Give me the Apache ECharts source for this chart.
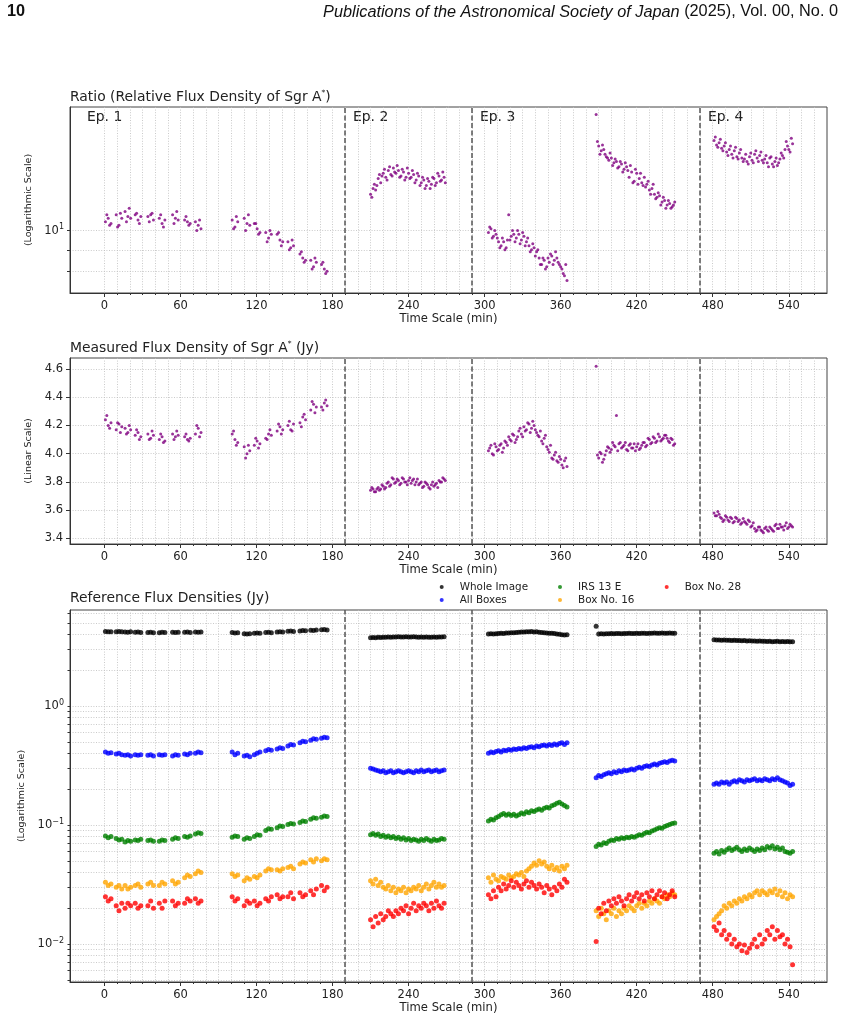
<!DOCTYPE html>
<html>
<head>
<meta charset="utf-8">
<script src="https://cdn.jsdelivr.net/npm/echarts@6/dist/echarts.min.js"></script>
<style>
  html, body { margin: 0; padding: 0; background: #fff; }
  #chart { width: 845px; height: 1017px; }
</style>
</head>
<body>
<div id="chart"></div>
<script>
// sampling times (min): epoch 1 comes in short clusters, the others are continuous runs
const ep1aCenters = [3, 11.5, 18.5, 26.5, 36.5, 45.5, 56, 65.5, 74];
const ep1bCenters = [103, 112.5, 120.5, 129.5, 138.5, 147, 156.5, 165, 173.5];
const clusterOffsets = [-2.2, 0, 2.2];
const runStarts = [210, 303, 388, 481];
const runLengths = [30, 32, 32, 32];
// second, interleaved set of frames (used for the Sgr A* panels)
const clusterOffsetsB = [-1.1, 1.1];
const runStartsB = [211, 304, 389, 482];
const runLengthsB = [30, 31, 31, 31];
const sampleStep = 2;

const timeLabels = [0, 60, 120, 180, 240, 300, 360, 420, 480, 540];
const epochBounds = [190, 290, 470];

// ratio (relative flux density of Sgr A*)
const ratio = [
  10.5,10.7,10.4, 10.9,10.3,10.7, 11.1,10.8,10.7, 10.9,10.6,10.8, 10.8,10.9,10.6, 10.7,10.4,10.6, 10.9,10.7,10.6, 10.6,10.5,10.4, 10.5,10.3,10.1,
  10.6,10.2,10.5, 10.7,10.4,10.3, 10.4,10.1,9.9, 9.9,9.6,9.8, 9.8,9.5,9.4, 9.4,9.1,9.2, 8.8,8.6,8.5, 8.5,8.2,8.4, 8.3,8.1,8.0,
  12.2,12.6,12.5,13.3,13.0,13.7,13.4,13.9,13.6,14.1, 13.7,13.9,13.5,13.8,13.4,13.7,13.4,13.6,13.2,13.5, 13.0,13.2,12.8,13.1,12.9,13.3,13.0,13.5,13.2,13.4,
  9.9,10.1,9.7,9.8,9.4,9.2,9.4,9.1, 10.9,9.7,9.8,9.6,9.8,9.5,9.7,9.4, 9.2,9.0,9.1,8.9,8.6,8.3,8.5,8.2, 8.4,8.7,8.5,8.6,8.3,8.1,7.8,7.6,
  18.9,15.9,15.5,15.6,15.0,14.7,14.9,14.5, 14.6,14.2,14.4,14.0,14.2,13.4,13.8,13.1, 13.7,13.3,13.0,13.4,12.9,12.5,12.6,12.2, 12.0,12.1,11.7,11.8,11.5,11.6,11.4,11.7,
  16.4,16.0,16.2,15.7,15.9,15.4,15.6,15.2, 15.5,15.0,15.3,14.9,14.8,14.6,15.0,14.7, 15.2,14.9,15.1,14.7,14.8,14.5,14.9,14.4, 14.6,14.3,14.8,15.1,15.6,15.9,15.4,16.1
];
const ratioB = [
  10.9,10.3, 10.2,11.0, 10.5,11.3, 11.0,10.4, 10.5,11.0, 10.9,10.2, 10.4,11.1, 10.8,10.3, 10.0,10.6,
  10.1,10.8, 10.0,10.9, 10.4,9.8, 9.4,10.0, 9.9,9.2, 9.0,9.5, 8.9,8.4, 8.1,8.6, 8.4,7.9,
  12.0,12.9,12.8,13.6,13.5,14.0,13.2,14.2,13.5,13.8, 14.3,13.4,14.0,13.2,14.1,13.3,13.9,13.0,13.7,12.8, 13.4,12.6,13.3,12.6,13.4,12.8,13.7,13.1,13.8,13.0,
  10.2,9.6,10.0,9.6,9.1,9.6,9.0,9.5,9.5,10.0, 9.4,10.0,9.3,9.9,9.2,9.6,8.9,9.3,8.7,9.0, 8.3,8.6,8.1,8.6,8.8,8.3,8.9,8.4,8.2,7.9,8.3,
  16.3,15.2,16.0,15.2,14.9,15.3,14.3,14.8,14.1,14.6, 13.8,14.5,13.9,14.3,13.0,14.0,12.9,13.7,12.8,12.7, 13.1,12.2,12.9,11.9,12.3,11.5,12.0,11.3,11.8,11.3,11.5,
  16.7,15.8,16.5,15.5,16.2,15.1,15.9,14.9,15.8,14.8, 15.6,14.6,15.2,14.4,15.3,14.5,15.5,14.6,15.4,14.5, 15.1,14.2,15.0,14.2,14.9,14.5,15.3,14.9,16.3,15.6,16.6
];

// measured flux density of Sgr A* (Jy)
const sgrFlux = [
  4.24,4.20,4.22, 4.17,4.21,4.19, 4.18,4.15,4.17, 4.13,4.15,4.12, 4.14,4.11,4.13, 4.10,4.12,4.09, 4.14,4.12,4.13, 4.12,4.10,4.11, 4.14,4.18,4.15,
  4.14,4.10,4.08, 4.05,4.00,4.02, 4.06,4.09,4.07, 4.11,4.14,4.13, 4.16,4.19,4.17, 4.20,4.17,4.21, 4.22,4.26,4.24, 4.31,4.35,4.33, 4.33,4.36,4.34,
  3.74,3.75,3.73,3.76,3.75,3.77,3.76,3.80,3.78,3.82, 3.80,3.81,3.79,3.82,3.80,3.81,3.79,3.82,3.80,3.78, 3.80,3.77,3.79,3.76,3.78,3.77,3.79,3.81,3.80,3.82,
  4.02,4.06,3.99,4.05,4.03,4.07,4.04,4.08, 4.12,4.09,4.13,4.10,4.16,4.14,4.19,4.17, 4.21,4.18,4.20,4.15,4.12,4.09,4.11,4.05, 4.01,3.97,3.99,3.95,3.98,3.92,3.95,3.91,
  4.62,3.97,4.00,3.96,4.02,4.04,4.03,4.06, 4.27,4.07,4.04,4.06,4.03,4.06,4.04,4.07, 4.05,4.03,4.06,4.08,4.06,4.10,4.08,4.11, 4.09,4.12,4.10,4.13,4.11,4.08,4.10,4.07,
  3.58,3.56,3.57,3.54,3.53,3.55,3.52,3.54, 3.52,3.54,3.53,3.51,3.52,3.50,3.52,3.49, 3.47,3.46,3.48,3.45,3.47,3.46,3.48,3.46, 3.49,3.47,3.50,3.48,3.49,3.47,3.50,3.48
];
const sgrFluxB = [
  4.27,4.18, 4.22,4.15, 4.14,4.20, 4.17,4.10, 4.10,4.16, 4.14,4.08, 4.10,4.16, 4.14,4.09, 4.20,4.12,
  4.16,4.06, 3.97,4.06, 4.11,4.04, 4.10,4.17, 4.21,4.14, 4.23,4.16, 4.19,4.28, 4.37,4.29, 4.31,4.38,
  3.76,3.73,3.75,3.74,3.78,3.75,3.79,3.77,3.83,3.79, 3.82,3.78,3.83,3.80,3.78,3.83,3.81,3.78,3.82,3.79, 3.76,3.80,3.78,3.75,3.80,3.78,3.76,3.80,3.83,3.81,
  4.04,4.00,4.07,4.02,4.06,4.01,4.09,4.06,4.10,4.14, 4.08,4.12,4.18,4.12,4.16,4.22,4.15,4.23,4.17,4.13, 4.16,4.07,4.13,4.03,4.06,3.96,4.01,3.94,3.96,3.90,3.97,
  3.99,4.01,3.94,3.99,4.05,4.01,4.08,4.05,4.02,4.08, 4.05,4.08,4.02,4.07,4.04,4.02,4.07,4.04,4.08,4.05, 4.11,4.07,4.12,4.08,4.14,4.09,4.11,4.13,4.09,4.11,4.06,
  3.56,3.59,3.55,3.52,3.56,3.53,3.55,3.51,3.55,3.52, 3.50,3.54,3.51,3.53,3.48,3.51,3.45,3.48,3.46,3.44, 3.48,3.45,3.47,3.45,3.50,3.47,3.48,3.46,3.51,3.48,3.49
];

// reference flux densities (Jy)
const wholeImage = [
  4.23,4.20,4.21, 4.21,4.23,4.20, 4.19,4.17,4.20, 4.16,4.18,4.15, 4.14,4.16,4.13, 4.13,4.16,4.14, 4.17,4.14,4.16, 4.16,4.18,4.15, 4.19,4.17,4.18,
  4.14,4.11,4.13, 4.04,4.02,4.05, 4.09,4.11,4.08, 4.14,4.16,4.13, 4.19,4.21,4.18, 4.24,4.26,4.23, 4.27,4.30,4.28, 4.33,4.31,4.35, 4.36,4.38,4.35,
  3.74,3.76,3.75,3.77,3.76,3.78,3.77,3.79,3.78,3.80, 3.79,3.81,3.80,3.79,3.81,3.80,3.79,3.81,3.80,3.78, 3.79,3.77,3.79,3.78,3.77,3.79,3.78,3.80,3.79,3.81,
  4.02,4.04,4.03,4.05,4.06,4.08,4.07,4.10, 4.11,4.13,4.12,4.15,4.17,4.19,4.18,4.21, 4.20,4.22,4.19,4.21,4.17,4.15,4.13,4.10, 4.08,4.09,4.06,4.03,4.00,3.97,3.95,3.96,
  4.68,4.02,4.04,4.03,4.05,4.04,4.06,4.05, 4.07,4.06,4.05,4.07,4.06,4.08,4.07,4.06, 4.08,4.07,4.09,4.08,4.07,4.09,4.08,4.10, 4.09,4.08,4.10,4.09,4.08,4.10,4.09,4.08,
  3.60,3.58,3.59,3.57,3.58,3.56,3.57,3.55, 3.56,3.54,3.55,3.53,3.54,3.52,3.53,3.51, 3.52,3.50,3.51,3.49,3.50,3.48,3.49,3.47, 3.48,3.49,3.47,3.48,3.46,3.48,3.47,3.46
];
const allBoxes = [
  0.41,0.40,0.405, 0.395,0.40,0.39, 0.385,0.39,0.38, 0.39,0.385,0.39, 0.385,0.39,0.38, 0.39,0.385,0.39, 0.38,0.39,0.385, 0.395,0.39,0.40, 0.40,0.41,0.405,
  0.41,0.39,0.40, 0.38,0.385,0.375, 0.39,0.40,0.41, 0.42,0.43,0.425, 0.435,0.445,0.44, 0.46,0.475,0.47, 0.49,0.505,0.50, 0.515,0.53,0.525, 0.535,0.545,0.54,
  0.30,0.295,0.29,0.285,0.28,0.285,0.275,0.28,0.285,0.275, 0.28,0.285,0.28,0.275,0.28,0.285,0.28,0.275,0.285,0.28, 0.29,0.28,0.285,0.29,0.28,0.285,0.29,0.28,0.285,0.29,
  0.40,0.41,0.405,0.415,0.42,0.41,0.425,0.42, 0.43,0.425,0.435,0.43,0.44,0.435,0.445,0.44, 0.45,0.455,0.445,0.46,0.455,0.465,0.47,0.46, 0.475,0.465,0.48,0.47,0.485,0.49,0.475,0.49,
  0.25,0.26,0.255,0.265,0.27,0.275,0.27,0.28, 0.275,0.285,0.28,0.29,0.285,0.29,0.295,0.29, 0.30,0.305,0.30,0.31,0.315,0.31,0.32,0.325, 0.32,0.33,0.335,0.34,0.335,0.345,0.35,0.345,
  0.22,0.225,0.22,0.23,0.225,0.23,0.22,0.23, 0.235,0.23,0.24,0.235,0.23,0.24,0.235,0.24, 0.245,0.235,0.24,0.235,0.245,0.24,0.235,0.245, 0.24,0.25,0.24,0.235,0.23,0.225,0.215,0.22
];
const irs13e = [
  0.081,0.078,0.080, 0.077,0.075,0.076, 0.072,0.074,0.073, 0.075,0.074,0.076, 0.074,0.075,0.073, 0.073,0.075,0.074, 0.076,0.078,0.077, 0.080,0.079,0.081, 0.084,0.086,0.085,
  0.079,0.081,0.080, 0.076,0.078,0.077, 0.080,0.083,0.082, 0.090,0.093,0.092, 0.095,0.098,0.097, 0.101,0.103,0.102, 0.105,0.108,0.107, 0.112,0.115,0.114, 0.116,0.119,0.118,
  0.083,0.085,0.082,0.084,0.080,0.082,0.079,0.081,0.078,0.080, 0.077,0.079,0.076,0.078,0.075,0.077,0.074,0.076,0.075,0.073, 0.076,0.074,0.077,0.075,0.073,0.076,0.074,0.075,0.077,0.076,
  0.108,0.112,0.110,0.115,0.118,0.122,0.125,0.121, 0.124,0.120,0.123,0.119,0.122,0.126,0.124,0.129, 0.127,0.132,0.130,0.134,0.136,0.133,0.138,0.141, 0.139,0.145,0.148,0.152,0.155,0.150,0.146,0.142,
  0.066,0.069,0.068,0.071,0.070,0.073,0.075,0.074, 0.077,0.076,0.078,0.077,0.079,0.078,0.080,0.079, 0.081,0.083,0.082,0.085,0.087,0.086,0.089,0.091, 0.093,0.095,0.094,0.097,0.099,0.101,0.103,0.104,
  0.058,0.060,0.057,0.061,0.059,0.062,0.064,0.061, 0.063,0.065,0.062,0.060,0.063,0.061,0.064,0.062, 0.060,0.063,0.061,0.064,0.062,0.066,0.064,0.067, 0.063,0.065,0.062,0.064,0.060,0.059,0.058,0.060
];
const box16 = [
  0.033,0.031,0.032, 0.030,0.031,0.029, 0.031,0.029,0.030, 0.031,0.032,0.030, 0.032,0.033,0.031, 0.031,0.033,0.032, 0.034,0.032,0.033, 0.036,0.038,0.037, 0.039,0.041,0.040,
  0.039,0.037,0.038, 0.034,0.036,0.035, 0.037,0.036,0.038, 0.041,0.043,0.042, 0.042,0.041,0.043, 0.044,0.045,0.043, 0.047,0.049,0.048, 0.051,0.049,0.052, 0.050,0.052,0.051,
  0.034,0.032,0.035,0.031,0.033,0.030,0.029,0.031,0.028,0.030, 0.027,0.029,0.028,0.030,0.027,0.029,0.028,0.030,0.029,0.031, 0.028,0.030,0.032,0.029,0.031,0.033,0.030,0.032,0.030,0.031,
  0.036,0.033,0.038,0.035,0.034,0.037,0.036,0.035, 0.038,0.036,0.037,0.039,0.038,0.040,0.037,0.041, 0.043,0.045,0.048,0.046,0.050,0.047,0.049,0.045, 0.043,0.046,0.042,0.044,0.041,0.045,0.043,0.046,
  0.019,0.017,0.020,0.018,0.016,0.019,0.018,0.020, 0.017,0.019,0.018,0.020,0.019,0.021,0.020,0.019, 0.021,0.022,0.020,0.022,0.021,0.023,0.022,0.024, 0.023,0.022,0.025,0.024,0.026,0.025,0.027,0.026,
  0.016,0.017,0.018,0.019,0.021,0.020,0.022,0.021, 0.023,0.022,0.024,0.023,0.025,0.024,0.026,0.025, 0.027,0.028,0.026,0.028,0.027,0.026,0.028,0.027, 0.029,0.026,0.028,0.025,0.027,0.024,0.026,0.025
];
const box28 = [
  0.025,0.023,0.024, 0.021,0.019,0.022, 0.020,0.022,0.021, 0.022,0.020,0.021, 0.021,0.023,0.020, 0.022,0.020,0.023, 0.023,0.021,0.022, 0.022,0.024,0.023, 0.024,0.022,0.023,
  0.025,0.023,0.024, 0.021,0.023,0.022, 0.023,0.021,0.022, 0.024,0.023,0.025, 0.026,0.024,0.025, 0.025,0.027,0.024, 0.027,0.025,0.026, 0.028,0.026,0.029, 0.031,0.028,0.030,
  0.016,0.014,0.017,0.015,0.018,0.016,0.017,0.019,0.018,0.017, 0.019,0.018,0.020,0.019,0.021,0.018,0.020,0.022,0.019,0.021, 0.020,0.022,0.021,0.019,0.022,0.020,0.023,0.021,0.020,0.022,
  0.026,0.024,0.028,0.025,0.030,0.028,0.032,0.029, 0.031,0.034,0.030,0.033,0.031,0.029,0.032,0.034, 0.030,0.033,0.031,0.029,0.032,0.030,0.027,0.031, 0.029,0.026,0.030,0.028,0.032,0.030,0.035,0.033,
  0.0105,0.020,0.018,0.022,0.019,0.023,0.021,0.024, 0.022,0.025,0.023,0.021,0.024,0.026,0.023,0.025, 0.027,0.024,0.026,0.023,0.027,0.025,0.028,0.024, 0.026,0.028,0.025,0.027,0.024,0.026,0.028,0.025,
  0.014,0.013,0.015,0.012,0.013,0.011,0.012,0.010, 0.011,0.0095,0.010,0.0088,0.0098,0.0085,0.0092,0.010, 0.011,0.0095,0.012,0.010,0.011,0.013,0.012,0.014, 0.011,0.013,0.0115,0.012,0.010,0.011,0.0095,0.0067
];

// ---- build time axes ----
function buildTimes(centersA, centersB, offsets, starts, lengths) {
  const t = [];
  [centersA, centersB].forEach(cs => cs.forEach(c => offsets.forEach(o => t.push(c + o))));
  starts.forEach((s, k) => {
    for (let i = 0; i < lengths[k]; i++) t.push(s + i * sampleStep);
  });
  return t;
}
const times = buildTimes(ep1aCenters, ep1bCenters, clusterOffsets, runStarts, runLengths);
const timesB = buildTimes(ep1aCenters, ep1bCenters, clusterOffsetsB, runStartsB, runLengthsB);
const pts = (vals, ts) => vals.map((v, i) => [(ts || times)[i], v]);

// grid tick positions
const minorTimes = [];
for (let t = 0; t <= 560; t += 10) minorTimes.push(t);
function logTicks(lo, hi) {
  const out = [];
  for (let e = -3; e <= 1; e++) for (let m = 1; m <= 9; m++) {
    const v = +(m * Math.pow(10, e)).toPrecision(3);
    if (v >= lo && v <= hi) out.push(v);
  }
  return out;
}

const FONT = 'DejaVu Sans';
const INK = '#222';
const GRIDLINE = { show: true, lineStyle: { color: '#bdbdbd', width: 0.8, type: [1, 1.6] } };
const supRich = {
  b: { fontSize: 11.5, fontFamily: FONT, color: INK },
  s: { fontSize: 8, fontFamily: FONT, color: INK, padding: [0, 0, 7, 0] }
};
function expLabel(v) {
  const e = Math.round(Math.log10(v));
  return '{b|10}{s|' + (e < 0 ? '\u2212' + (-e) : e) + '}';
}

const grids = [
  { left: 70, right: 18, top: 107, height: 186 },
  { left: 70, right: 18, top: 358, height: 186 },
  { left: 70, right: 18, top: 610, height: 372 }
].map(g => Object.assign(g, { show: true, borderColor: '#444', borderWidth: 1, containLabel: false }));

function xAxisFor(gi) {
  return {
    type: 'value', gridIndex: gi, min: -27.15, max: 570.15,
    name: 'Time Scale (min)', nameLocation: 'middle', nameGap: 18,
    nameTextStyle: { fontSize: 11.6, color: INK, fontFamily: FONT },
    axisLine: { onZero: false, lineStyle: { color: '#333', width: 1 } },
    axisTick: { customValues: minorTimes, length: 2, lineStyle: { color: '#333' } },
    axisLabel: { customValues: timeLabels, fontSize: 11.5, color: INK, fontFamily: FONT, margin: 7 },
    splitLine: GRIDLINE
  };
}
function majorTickAxis(gi) {
  return {
    type: 'value', gridIndex: gi, min: -27.15, max: 570.15, position: 'bottom',
    axisLine: { show: false, onZero: false },
    axisTick: { customValues: timeLabels, length: 4, lineStyle: { color: '#333' } },
    axisLabel: { show: false }, splitLine: { show: false }
  };
}

const yName = { nameLocation: 'middle', nameRotate: 90, nameTextStyle: { fontSize: 9.5, color: INK, fontFamily: FONT } };
const yLine = { onZero: false, lineStyle: { color: '#333' } };
const yAxes = [
  Object.assign({
    type: 'log', gridIndex: 0, min: 7.1, max: 19.7, name: '(Logarithmic Scale)', nameGap: 30,
    axisLine: yLine,
    axisTick: { customValues: [8, 9, 10], length: 3, lineStyle: { color: '#333' } },
    axisLabel: { customValues: [10], formatter: expLabel, rich: supRich, margin: 6 },
    splitLine: GRIDLINE
  }, yName),
  Object.assign({
    type: 'value', gridIndex: 1, min: 3.36, max: 4.678, name: '(Linear Scale)', nameGap: 28,
    axisLine: yLine,
    axisTick: { customValues: [3.4, 3.6, 3.8, 4.0, 4.2, 4.4, 4.6], length: 4, lineStyle: { color: '#333' } },
    axisLabel: { customValues: [3.4, 3.6, 3.8, 4.0, 4.2, 4.4, 4.6], formatter: v => v.toFixed(1), fontSize: 11.5, color: INK, fontFamily: FONT, margin: 7 },
    splitLine: GRIDLINE
  }, yName),
  Object.assign({
    type: 'log', gridIndex: 2, min: 0.0048, max: 6.4, name: '(Logarithmic Scale)', nameGap: 41,
    axisLine: yLine,
    axisTick: { customValues: logTicks(0.0048, 6.4), length: 2.5, lineStyle: { color: '#333' } },
    axisLabel: { customValues: [0.01, 0.1, 1], formatter: expLabel, rich: supRich, margin: 6 },
    splitLine: GRIDLINE
  }, yName)
];

const epochLines = {
  silent: true, symbol: 'none', animation: false,
  label: { show: false },
  lineStyle: { color: '#555', width: 1.5, type: [5, 2.5] },
  data: epochBounds.map(x => ({ xAxis: x }))
};

function scatter(name, data, color, gi, size, extra) {
  return Object.assign({
    name, type: 'scatter', xAxisIndex: gi, yAxisIndex: gi, data,
    symbolSize: size, itemStyle: { color, opacity: 0.8 }
  }, extra || {});
}

const legendBase = {
  orient: 'vertical', top: 582, padding: 0, itemWidth: 4, itemHeight: 4, itemGap: 3, icon: 'circle',
  textStyle: { fontSize: 10.4, color: INK, fontFamily: FONT, padding: [0, 0, 0, 11] }
};

const titles = [
  { text: 'Ratio (Relative Flux Density of Sgr A{s|*})', top: 89 },
  { text: 'Measured Flux Density of Sgr A{s|*} (Jy)', top: 340 },
  { text: 'Reference Flux Densities (Jy)', top: 591 }
].map(t => Object.assign(t, {
  left: 70, padding: 0,
  textStyle: {
    fontSize: 13.9, fontWeight: 'normal', color: INK, fontFamily: FONT,
    rich: { s: { fontSize: 7.5, fontFamily: FONT, color: INK, padding: [0, 0, 8, 0] } }
  }
}));

const epText = (txt, x, y) => ({
  type: 'text', left: x, top: y, silent: true,
  style: { text: txt, fontSize: 13.9, fontFamily: FONT, fill: INK }
});

const HEAD = 'Liberation Sans';
const chart = echarts.init(document.getElementById('chart'));
chart.setOption({
  animation: false,
  backgroundColor: '#fff',
  textStyle: { fontFamily: FONT },
  title: titles,
  grid: grids,
  xAxis: [xAxisFor(0), xAxisFor(1), xAxisFor(2), majorTickAxis(0), majorTickAxis(1), majorTickAxis(2)],
  yAxis: yAxes,
  legend: [
    Object.assign({ left: 439.7, data: ['Whole Image', 'All Boxes'] }, legendBase),
    Object.assign({ left: 558, data: ['IRS 13 E', 'Box No. 16'] }, legendBase),
    Object.assign({ left: 664.7, data: ['Box No. 28'] }, legendBase)
  ],
  graphic: [
    { type: 'text', left: 7, top: 4, style: { text: '10', fontSize: 16.3, fontWeight: 'bold', fontFamily: HEAD, fill: '#111' } },
    { type: 'text', right: 7, top: 4, style: {
      text: '{i|Publications of the Astronomical Society of Japan} (2025), Vol. 00, No. 0',
      fontSize: 16.3, fontFamily: HEAD, fill: '#111',
      rich: { i: { fontStyle: 'italic', fontSize: 16.3, fontFamily: HEAD, fill: '#111' } }
    } },
    epText('Ep. 1', 87, 110),
    epText('Ep. 2', 353, 110),
    epText('Ep. 3', 480, 110),
    epText('Ep. 4', 708, 110)
  ],
  series: [
    scatter('Ratio', pts(ratio), '#800080', 0, 3, { markLine: epochLines }),
    scatter('Ratio (interleaved)', pts(ratioB, timesB), '#800080', 0, 3),
    scatter('Sgr A*', pts(sgrFlux), '#800080', 1, 3, { markLine: epochLines }),
    scatter('Sgr A* (interleaved)', pts(sgrFluxB, timesB), '#800080', 1, 3),
    scatter('Whole Image', pts(wholeImage), '#000000', 2, 5, { markLine: epochLines }),
    scatter('All Boxes', pts(allBoxes), '#0000ff', 2, 5),
    scatter('IRS 13 E', pts(irs13e), '#008000', 2, 5),
    scatter('Box No. 16', pts(box16), '#ffa500', 2, 5),
    scatter('Box No. 28', pts(box28), '#ff0000', 2, 5)
  ]
});
</script>
</body>
</html>
